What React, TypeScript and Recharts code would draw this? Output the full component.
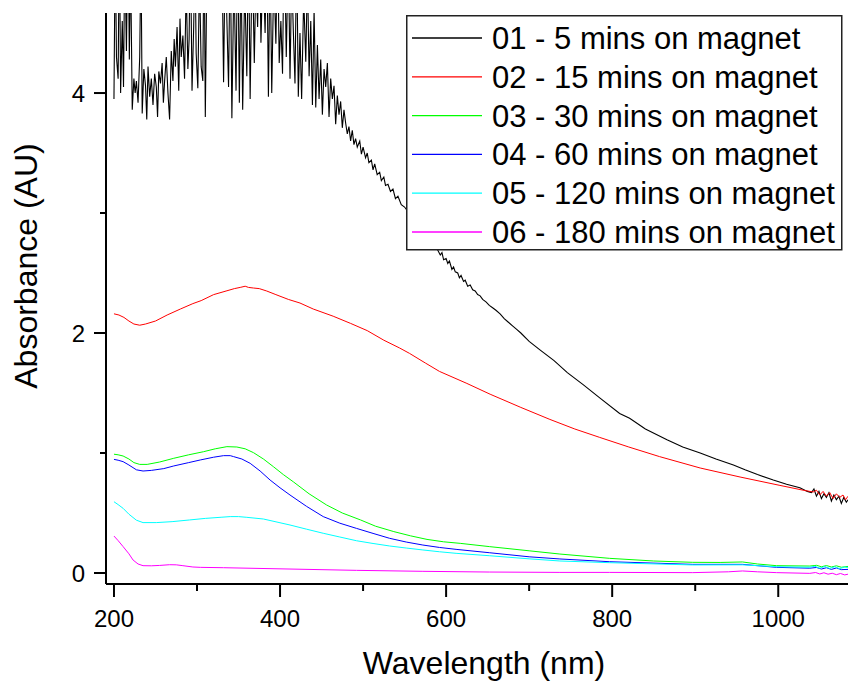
import React from 'react';
import { LineChart, Line, XAxis, YAxis, Legend } from 'recharts';

const seriesNames = [
  '01 - 5 mins on magnet',
  '02 - 15 mins on magnet',
  '03 - 30 mins on magnet',
  '04 - 60 mins on magnet',
  '05 - 120 mins on magnet',
  '06 - 180 mins on magnet',
];
const seriesColors = ['#000000', '#ff0000', '#00ff00', '#0000ff', '#00ffff', '#ff00ff'];

const xTicks = [200, 300, 400, 500, 600, 700, 800, 900, 1000];
const yTicks = [0, 1, 2, 3, 4];

// [wavelength nm, absorbance]
const s01: [number, number][] = [
  [200,3.95],[201.5,5.3],[203,4.3],[205,4.12],[206.5,5.4],[208,4.0],[210,4.6],[211.5,4.05],[213,5.2],[215,4.35],[217,5.5],[218.5,4.28],
  [220,5.1],[222,3.86],
  [224,4.12],[225.5,4.0],[227,4.1],[229,3.92],[231,4.3],[232.5,5.2],[234,3.83],[236,4.2],[238,4.06],[239.5,3.78],[241,4.22],[243,3.97],
  [245,4.12],[247,3.9],[249,4.16],[251,4.05],[252.5,3.8],[254,4.18],[256,4.08],[258,4.25],[259.5,3.92],[261,4.1],[263,4.3],[265,4.0],
  [267,3.78],
  [269,4.35],[271,4.1],[272.5,4.45],[274,4.22],[276,4.55],[278,4.02],[279.5,4.62],[281,4.3],[283,4.48],[285,4.12],[287,4.9],[289,4.2],
  [290.5,4.45],[292,5.3],[294,4.02],[296,4.55],[297.5,5.2],[299,4.33],[301,4.04],[303,5.0],[305,4.22],[307,4.1],[308.5,5.4],[310,3.8],
  [312,5.1],[316,5.4],[321,5.1],[326,5.5],[330,5.2],
  [332,4.09],[334,5.2],[336,4.6],[338,4.05],[340,5.3],[342,3.79],[344.5,5.0],[347,4.02],[349,5.4],[351,3.92],[353,5.1],[355,3.86],
  [357.5,4.9],[360,4.14],[362,5.3],[364,3.95],[366.5,5.2],[369,4.25],[371,5.0],[373,4.55],[375,5.4],[377,4.42],[379.5,5.1],[382,4.5],
  [384,5.3],[386,3.97],[388,5.2],[390,4.0],[392.5,5.0],[395,4.41],[397,5.3],[399,4.25],[401,4.6],[403,4.16],[405,5.4],[407.5,4.3],
  [410,5.2],[412,4.12],[414,5.0],[416,4.52],[418,4.08],[420,5.2],[422,3.97],[424,4.5],[426,3.95],[428.5,4.8],[431,4.26],[433,5.0],
  [435,4.14],[437,4.6],[439,3.9],[441,4.7],[443,3.88],
  [445,4.4],[447,3.95],[449,4.28],[451,3.82],[453,4.2],[455,4.05],[457,4.25],[459,3.8],[461,4.12],[463,3.95],[465,4.06],[467,3.74],
  [469,3.98],[471,3.82],[473,3.93],[475,3.71],[477,3.86],[479,3.75],
  [481,3.66],[483,3.72],[485,3.6],[487,3.69],[489,3.57],[491,3.62],[493,3.55],[496,3.6],[498,3.49],[500,3.55],[503,3.46],[505,3.5],
  [507,3.42],[510,3.44],[512,3.36],[514,3.41],[517,3.32],[520,3.34],[522,3.27],[525,3.3],[527,3.23],[530,3.24],[533,3.18],[536,3.2],
  [539,3.12],[542,3.14],[546,3.07],[550,3.05],[555,3.0],[560,2.95],[565,2.90],[570,2.86],[575,2.81],[580,2.77],[585,2.73],[590,2.69],
  [593,2.65],[595,2.67],[597,2.61],[600,2.62],[602,2.58],[604,2.6],[607,2.53],[609,2.55],[611,2.51],[614,2.5],[616,2.46],[618,2.48],
  [621,2.43],[623,2.44],[626,2.39],[629,2.4],[632,2.36],[635,2.35],[638,2.32],[641,2.31],[644,2.28],[648,2.26],[652,2.23],[656,2.21],
  [660,2.19],[665,2.16],[670,2.12],[675,2.09],[680,2.06],[685,2.03],[690,2.0],[700,1.93],
  [713,1.86],[730,1.77],[746,1.67],[765,1.57],[785,1.46],[809,1.33],[821,1.29],[840,1.20],[866,1.11],[885,1.05],[906,1.0],[925,0.95],
  [946,0.90],[960,0.86],[975,0.82],[994,0.775],[1010,0.74],[1026,0.71],[1035,0.68],
  [1040,0.67],[1043,0.70],[1046,0.64],[1049,0.68],[1052,0.62],[1055,0.66],[1058,0.63],[1061,0.67],[1064,0.60],[1067,0.65],[1070,0.61],
  [1073,0.64],[1076,0.58],[1079,0.63],[1082,0.59],[1084,0.61],
];

const s02: [number, number][] = [
  [200,2.16],[206,2.15],[212,2.13],[218,2.10],[224,2.075],[231,2.065],[238,2.075],[250,2.10],[264,2.15],[280,2.20],[295,2.245],
  [305,2.27],[320,2.32],[335,2.35],[345,2.37],[352,2.38],[358,2.39],[362,2.38],[368,2.375],[375,2.37],[384,2.35],[395,2.32],
  [410,2.28],[424,2.25],[440,2.20],[464,2.14],[485,2.08],[505,2.02],[525,1.94],[544,1.875],[556,1.83],[575,1.75],[592,1.68],
  [625,1.58],[653,1.49],[690,1.38],[725,1.28],[755,1.20],[785,1.13],[820,1.05],[857,0.97],[906,0.875],[954,0.80],[1002,0.73],
  [1030,0.69],[1042,0.675],[1046,0.69],[1050,0.65],[1054,0.68],[1058,0.64],[1062,0.67],[1066,0.62],[1070,0.66],[1074,0.63],
  [1078,0.65],[1081,0.61],[1084,0.64],
];

const s03: [number, number][] = [
  [200,0.99],[205,0.985],[211,0.975],[218,0.95],[224,0.92],[231,0.905],[240,0.905],[255,0.925],[272,0.956],[290,0.985],[308,1.011],
  [322,1.035],[336,1.053],[348,1.05],[358,1.035],[368,1.003],[380,0.95],[392,0.886],[404,0.82],[416,0.76],[435,0.66],[456,0.567],
  [475,0.50],[497,0.442],[515,0.39],[537,0.345],[557,0.31],[577,0.28],[597,0.26],[617,0.247],[652,0.22],[700,0.185],[737,0.158],
  [797,0.122],[850,0.10],[897,0.089],[930,0.088],[957,0.092],[975,0.075],[998,0.061],[1038,0.058],[1046,0.064],[1052,0.052],
  [1058,0.062],[1064,0.05],[1070,0.06],[1076,0.048],[1084,0.055],
];

const s04: [number, number][] = [
  [200,0.947],[205,0.94],[211,0.928],[218,0.90],[227,0.86],[235,0.85],[245,0.855],[260,0.87],[272,0.892],[290,0.92],[304,0.942],
  [320,0.965],[332,0.978],[340,0.978],[344,0.97],[354,0.95],[364,0.914],[376,0.85],[388,0.775],[400,0.71],[412,0.65],[432,0.555],
  [452,0.47],[472,0.415],[492,0.372],[512,0.33],[532,0.289],[552,0.258],[572,0.233],[592,0.213],[612,0.197],[652,0.169],[700,0.135],
  [737,0.117],[797,0.094],[897,0.072],[957,0.072],[998,0.047],[1038,0.04],[1046,0.046],[1052,0.033],[1058,0.044],[1064,0.03],
  [1070,0.042],[1076,0.028],[1084,0.03],
];

const s05: [number, number][] = [
  [200,0.594],[205,0.57],[211,0.539],[218,0.49],[227,0.44],[235,0.42],[251,0.42],[270,0.428],[291,0.442],[310,0.455],[330,0.465],
  [340,0.47],[350,0.47],[360,0.464],[380,0.45],[412,0.40],[432,0.365],[452,0.331],[472,0.30],[492,0.269],[512,0.246],[532,0.225],
  [552,0.208],[572,0.192],[592,0.177],[612,0.164],[652,0.144],[700,0.118],[737,0.1],[797,0.086],[897,0.067],[957,0.068],[998,0.052],
  [1038,0.048],[1044,0.056],[1050,0.04],[1056,0.054],[1062,0.038],[1068,0.052],[1074,0.036],[1080,0.05],[1084,0.044],
];

const s06: [number, number][] = [
  [200,0.308],[205,0.27],[211,0.22],[218,0.16],[223,0.108],[229,0.075],[235,0.061],[245,0.06],[255,0.063],[267,0.069],[275,0.068],
  [283,0.061],[295,0.05],[304,0.047],[332,0.044],[412,0.033],[492,0.022],[572,0.014],[652,0.008],[737,0.005],[797,0.005],[897,0.003],
  [940,0.01],[957,0.017],[975,0.01],[998,0.003],[1038,-0.003],[1045,0.004],[1050,-0.008],[1055,0.002],[1060,-0.01],[1065,-0.002],
  [1070,-0.014],[1075,-0.004],[1080,-0.016],[1084,-0.01],
];

const allSeries = [s01, s02, s03, s04, s05, s06];
const toPoints = (a: [number, number][]) => a.map(([x, y]) => ({ x, y }));

const FONT = '"Liberation Sans", Arial, Helvetica, sans-serif';

const XTick = (props: any) => {
  const { x, y, payload } = props;
  const major = payload.value % 200 === 0;
  return (
    <g>
      <line x1={x} x2={x} y1={y} y2={y + (major ? 13 : 7)} stroke="#000" strokeWidth={2} />
      {major && (
        <text x={x} y={y + 43} textAnchor="middle" fontSize={24} fontFamily={FONT} fill="#000">
          {payload.value}
        </text>
      )}
    </g>
  );
};

const YTick = (props: any) => {
  const { x, y, payload } = props;
  const major = payload.value % 2 === 0;
  return (
    <g>
      <line x1={x} x2={x - (major ? 12 : 6)} y1={y} y2={y} stroke="#000" strokeWidth={2} />
      {major && (
        <text x={x - 21} y={y + 9} textAnchor="end" fontSize={24} fontFamily={FONT} fill="#000">
          {payload.value}
        </text>
      )}
    </g>
  );
};

const LegendBox = () => (
  <svg width={438} height={238} style={{ display: 'block' }}>
    <rect x={0.75} y={0.75} width={435} height={234} fill="#fff" stroke="#222" strokeWidth={1.5} />
    {seriesNames.map((name, i) => {
      const cy = 23 + i * 38.8;
      return (
        <g key={name}>
          <line x1={6} x2={76} y1={cy} y2={cy} stroke={seriesColors[i]} strokeWidth={1.3} />
          <text x={86} y={cy + 11} fontSize={31} fontFamily={FONT} fill="#000">
            {name}
          </text>
        </g>
      );
    })}
  </svg>
);

export default function App() {
  return (
    <div style={{ position: 'absolute', left: 0, top: 0, width: 848, height: 681, background: '#fff' }}>
      <LineChart width={848} height={681} margin={{ top: 13, right: 0, bottom: 0, left: 0 }}>
        <XAxis
          type="number"
          dataKey="x"
          domain={[190.4, 1084]}
          allowDataOverflow
          ticks={xTicks}
          interval={0}
          tickSize={0}
          tickMargin={0}
          tick={<XTick />}
          tickLine={false}
          axisLine={{ stroke: '#000', strokeWidth: 2 }}
          height={97}
          label={{
            content: () => (
              <text x={484} y={674} textAnchor="middle" fontSize={32} fontFamily={FONT} fill="#000">
                Wavelength (nm)
              </text>
            ),
          }}
        />
        <YAxis
          type="number"
          domain={[-0.0917, 4.667]}
          allowDataOverflow
          ticks={yTicks}
          interval={0}
          tickSize={0}
          tickMargin={0}
          tick={<YTick />}
          tickLine={false}
          axisLine={{ stroke: '#000', strokeWidth: 2 }}
          width={106}
          label={{
            content: () => (
              <text
                x={37}
                y={266}
                textAnchor="middle"
                fontSize={32}
                fontFamily={FONT}
                fill="#000"
                transform="rotate(-90 37 266)"
              >
                Absorbance (AU)
              </text>
            ),
          }}
        />
        {allSeries.map((s, i) => (
          <Line
            key={seriesNames[i]}
            data={toPoints(s)}
            dataKey="y"
            name={seriesNames[i]}
            type="linear"
            stroke={seriesColors[i]}
            strokeWidth={i === 0 ? 1.1 : 1}
            dot={false}
            activeDot={false}
            isAnimationActive={false}
          />
        ))}
        <Legend
          layout="horizontal"
          verticalAlign="middle"
          align="center"
          content={() => <LegendBox />}
          wrapperStyle={{ position: 'absolute', left: 406, top: 15, width: 438, height: 238 }}
        />
      </LineChart>
    </div>
  );
}
